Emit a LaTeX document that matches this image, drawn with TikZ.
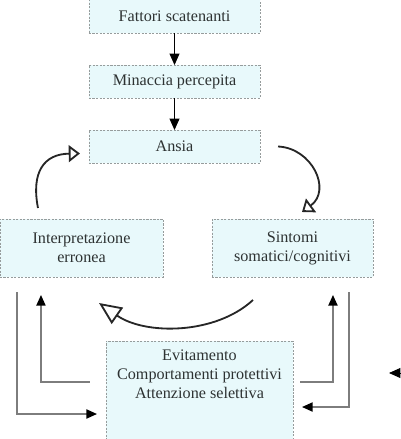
\documentclass[tikz,border=0pt]{standalone}
\usepackage{fontspec}
\setmainfont{Liberation Serif}
\usepackage{tikz}
\usetikzlibrary{arrows.meta,positioning,calc}
\definecolor{boxfill}{RGB}{232,249,251}
\definecolor{boxline}{RGB}{150,156,156}
\definecolor{txtgray}{RGB}{45,50,50}
\definecolor{linkgray}{RGB}{125,125,125}

\begin{document}
\begin{tikzpicture}[x=0.025cm, y=-0.025cm,
    box/.style={draw=boxline, fill=boxfill, dash pattern=on 1.5pt off 1pt, line width=0.6pt,
      inner sep=0pt, outer sep=0pt, align=center, text=txtgray, font=\fontsize{11.5}{13.5}\selectfont},
    boxtext/.style={align=center, text=txtgray, font=\fontsize{11.5}{13.5}\selectfont},
    flow/.style={draw=black, line width=0.6pt, -{Triangle[length=8pt, width=7pt]}},
    link/.style={draw=linkgray, line width=1pt, -{Triangle[length=7.5pt, width=6.5pt, black]}},
    ringarrow/.style={draw=black!85, line width=1.3pt, -{Triangle[open, length=8pt, width=12pt, fill=white]}}
  ]
  \useasboundingbox (0,0) rectangle (400,439);
  % chain at the top
  \node[box, minimum width=4.275cm, minimum height=0.85cm] (fattori) at (174.5,16) {Fattori scatenanti};
  \node[box, minimum width=4.275cm, minimum height=0.825cm] (minaccia) at (174.5,81.5) {Minaccia percepita};
  \node[box, minimum width=4.275cm, minimum height=0.825cm] (ansia) at (174.5,146.5) {Ansia};
  \draw[flow] (fattori) -- (minaccia);
  \draw[flow] (minaccia) -- (ansia);
  % the two sides of the circle
  \node[box, minimum width=4.075cm, minimum height=1.45cm] (interp) at (81.5,248) {Interpretazione\\erronea};
  \node[box, minimum width=4.025cm, minimum height=1.45cm] (sintomi) at (292.5,248) {Sintomi\\somatici/cognitivi};
  % safety behaviours
  \node[box, minimum width=4.675cm, minimum height=2.45cm] (evit) at (199.5,390) {};
  \node[boxtext] (evittxt) at (199.5,374) {Evitamento\\Comportamenti protettivi\\Attenzione selettiva};
  % circle arrows
  \draw[ringarrow] ($(ansia.east)+(18,0)$) .. controls (312,148) and (332,190) .. (302,212);
  \draw[ringarrow, -{Triangle[open, length=16pt, width=14pt, fill=white]}]
    ($(sintomi.south west)+(41,23)$) .. controls (215,335) and (145,335) .. (99,303);
  \draw[ringarrow] ($(interp.north west)+(38,-11)$) .. controls (31,172) and (44,154) .. ($(ansia.west)+(-9,7)$);
  % links to and from the bottom box
  \draw[link] ($(interp.south west)+(17,15)$) |- ($(evit.west)+(-9,24)$);
  \draw[link] ($(evit.west)+(-16,-8)$) -| ($(interp.south west)+(41,18)$);
  \draw[link] ($(evit.east)+(7,-8)$) -| ($(sintomi.south west)+(121,18)$);
  \draw[link] ($(sintomi.south west)+(137,15)$) |- ($(evit.east)+(9,17)$);
  % arrow coming in at the right edge
  \coordinate (straystart) at (402,373);
  \coordinate (strayend) at (389,373);
  \draw[flow] (straystart) -- (strayend);
\end{tikzpicture}
\end{document}
